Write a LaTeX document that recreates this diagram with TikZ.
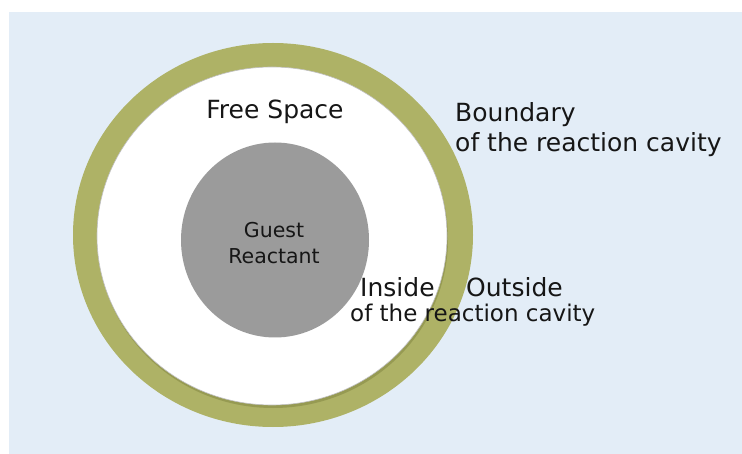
\documentclass[tikz,border=0pt]{standalone}
\usepackage{fontspec}
\setmainfont{DejaVu Sans}

\definecolor{panelblue}{RGB}{227,237,247}
\definecolor{cavitywall}{RGB}{174,178,102}
\definecolor{wallshade}{RGB}{150,154,82}
\definecolor{guestgray}{RGB}{155,155,155}
\definecolor{labelink}{RGB}{22,22,22}

\begin{document}
\begin{tikzpicture}[x=1pt, y=-1pt]
%% coordinates are in points, measured down from the top left corner
\tikzstyle{label}=[text=labelink, inner sep=0pt, font=\fontsize{25}{28}\selectfont]
\tikzstyle{smalllabel}=[label, font=\fontsize{23}{26}\selectfont]
\tikzstyle{guestlabel}=[label, font=\fontsize{20.5}{24}\selectfont]
\useasboundingbox (0,0) rectangle (742,454);
\fill[white] (0,0) rectangle (742,454);
\fill[panelblue] (9,12) rectangle (742,454);
%% the wall of the reaction cavity
\fill[cavitywall] (273,235) ellipse [x radius=200, y radius=192];
\fill[wallshade] (273,239) ellipse [x radius=175, y radius=169];
%% free space inside the cavity
\fill[white, draw=black!25, line width=0.6pt] (272,236) ellipse [x radius=175, y radius=169];
%% the guest molecule
\fill[guestgray] (275,240) ellipse [x radius=94, y radius=97.5];
%% labels
\node[label, anchor=base] (FreeSpace) at (275,119) {Free Space};
\node[label, anchor=base west] (Boundary) at (455,122) {Boundary};
\node[label, anchor=base west] (BoundaryOf) at (455,152) {of the reaction cavity};
\node[guestlabel, anchor=base] (Guest) at (274,238) {Guest};
\node[guestlabel, anchor=base] (Reactant) at (274,264) {Reactant};
\node[label, anchor=base west] (Inside) at (360,297) {Inside};
\node[label, anchor=base west] (Outside) at (466,297) {Outside};
\node[smalllabel, anchor=base west] (InsideOf) at (350,322) {of the reaction cavity};
\end{tikzpicture}
\end{document}
